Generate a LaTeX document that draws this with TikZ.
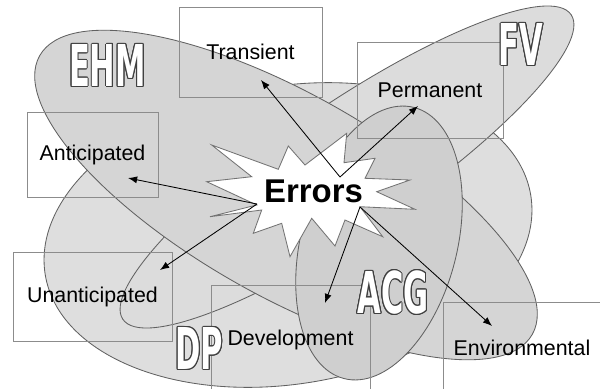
\documentclass[tikz,border=0pt]{standalone}
\usepackage{fontspec}
\setmainfont{Liberation Sans}
\newfontfamily\tagfamily{DejaVu Sans}
\usepackage{graphicx}
\usepackage{contour}
\usetikzlibrary{arrows.meta}

\definecolor{dpfill}{HTML}{DEDEDE}
\definecolor{fvfill}{HTML}{DCDCDC}
\definecolor{ehmfill}{HTML}{D5D5D5}
\definecolor{acgfill}{HTML}{CFCFCF}

% hollow condensed capitals for the region tags
\contourlength{0.7pt}
\newcommand{\hollow}[1]{\contour{black!75}{\scalebox{0.53}[1]{\textcolor{white}{#1}}}}

\begin{document}
\begin{tikzpicture}[x=0.025cm, y=-0.025cm,
    region/.style={draw=black!62, line width=0.6pt},
    casebox/.style={draw=black!45, line width=0.6pt, rectangle, inner sep=0pt, font=\fontsize{15.2}{18}\selectfont},
    burst/.style={draw=black!55, fill=white, line width=0.6pt, line join=miter},
    arrow/.style={-{Latex[length=6.5pt,width=5pt]}, line width=0.6pt},
    tag/.style={inner sep=0pt, font=\fontsize{41}{41}\tagfamily\bfseries}
]
  \useasboundingbox (0,0) rectangle (600,389);
  \clip (0,0) rectangle (600,389);

  % Regions
  \path[region, fill=dpfill, rotate around={9.3:(288,235)}] (288,235) ellipse [x radius=246, y radius=149];
  \path[region, fill=fvfill, rotate around={34.2:(347,167)}] (347,167) ellipse [x radius=271, y radius=63];
  \path[region, fill=ehmfill, rotate around={-29.5:(286,195)}] (286,195) ellipse [x radius=283, y radius=101];
  \path[region, fill=acgfill, rotate around={-14.5:(379,243)}] (379,243) ellipse [x radius=78, y radius=140];

  % Kinds of error
  \node (transient) [casebox, minimum width=3.575cm, minimum height=2.25cm] at (250.5,52) {Transient};
  \node (permanent) [casebox, minimum width=3.65cm, minimum height=2.4cm] at (430,90) {Permanent};
  \node (anticipated) [casebox, minimum width=3.275cm, minimum height=2.125cm] at (92.5,154.5) {Anticipated};
  \node (unanticipated) [casebox, minimum width=3.975cm, minimum height=2.225cm] at (92.5,296.5) {Unanticipated};
  \node (development) [casebox, minimum width=3.975cm, minimum height=2.75cm] at (290.5,340) {Development};
  \node (environmental) [casebox, minimum width=3.95cm, minimum height=2.3cm] at (522,348) {Environmental};

  % Burst
  \draw[burst] (211.7,145) -- (278.3,169.3) -- (288.3,146) -- (305,165) -- (346.7,133.3)
    -- (344,162.7) -- (375,158.3) -- (365,178.3) -- (410,180) -- (376.7,191.7)
    -- (415,209.3) -- (360,206.7) -- (382.7,236.7) -- (345,220) -- (335,246)
    -- (311.7,218.3) -- (290,256.7) -- (281.7,223.3) -- (253.3,233.3) -- (261.7,210)
    -- (210,216.7) -- (256.7,205) -- (206.7,181.7) -- (251.7,176.7) -- cycle;
  \node (errors) [inner sep=0pt, font=\fontsize{23.4}{28}\selectfont\bfseries] at (313.5,191.5) {Errors};

  % Arrow ends
  \coordinate (fromTop) at (340,177);
  \coordinate (fromLeft) at (257,204);
  \coordinate (fromLow) at (360,207);
  \coordinate (toTransient) at (261,80);
  \coordinate (toPermanent) at (418,106);
  \coordinate (toAnticipated) at (128,178);
  \coordinate (toUnanticipated) at (160,270);
  \coordinate (toDevelopment) at (325,303);
  \coordinate (toEnvironmental) at (492,326);

  \draw[arrow] (fromTop) -- (toTransient);
  \draw[arrow] (fromTop) -- (toPermanent);
  \draw[arrow] (fromLeft) -- (toAnticipated);
  \draw[arrow] (fromLeft) -- (toUnanticipated);
  \draw[arrow] (fromLow) -- (toDevelopment);
  \draw[arrow] (fromLow) -- (toEnvironmental);

  % Region tags
  \node (ehm) [tag] at (107.5,66) {\hollow{EHM}};
  \node (fv) [tag] at (521,45) {\hollow{FV}};
  \node (acg) [tag] at (393,293) {\hollow{ACG}};
  \node (dp) [tag] at (199.5,349) {\hollow{DP}};
\end{tikzpicture}
\end{document}
